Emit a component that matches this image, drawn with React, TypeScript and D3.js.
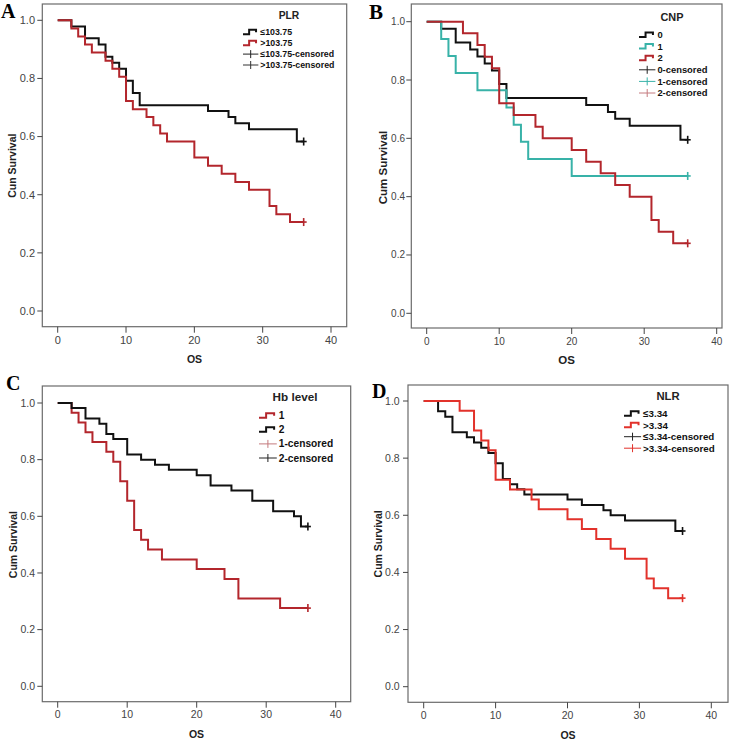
import React from 'react';
import * as d3 from 'd3';

// ---- data ----
const timeTicks = [0, 10, 20, 30, 40];
const survTicks = [0, 0.2, 0.4, 0.6, 0.8, 1.0];
const censorTime = 36;

// A: PLR
const plrLowTimes = [0, 2, 4, 6, 7, 8, 9, 10, 11, 12, 22, 25, 26, 28, 35];
const plrLowSurv = [1, 0.979, 0.938, 0.917, 0.875, 0.854, 0.833, 0.792, 0.75, 0.708, 0.688, 0.667, 0.646, 0.625, 0.583];
const plrHighTimes = [0, 2, 3, 4, 5, 7, 8, 9, 10, 11, 13, 14, 15, 16, 20, 22, 24, 26, 28, 31, 32, 34];
const plrHighSurv = [1, 0.972, 0.944, 0.917, 0.889, 0.861, 0.833, 0.806, 0.722, 0.694, 0.667, 0.639, 0.611, 0.583, 0.528, 0.5, 0.472, 0.444, 0.417, 0.361, 0.333, 0.306];

// B: CNP
const cnp0Times = [0, 2, 4, 6, 7, 8, 9, 10, 11, 22, 25, 26, 28, 35];
const cnp0Surv = [1, 0.976, 0.929, 0.905, 0.881, 0.857, 0.833, 0.786, 0.738, 0.714, 0.69, 0.667, 0.643, 0.595];
const cnp1Times = [0, 2, 3, 4, 7, 11, 12, 13, 14, 20];
const cnp1Surv = [1, 0.941, 0.882, 0.824, 0.765, 0.706, 0.647, 0.588, 0.529, 0.471];
const cnp2Times = [0, 5, 7, 8, 9, 10, 12, 15, 16, 20, 22, 24, 26, 28, 31, 32, 34];
const cnp2Surv = [1, 0.96, 0.92, 0.88, 0.84, 0.72, 0.68, 0.64, 0.6, 0.56, 0.52, 0.48, 0.44, 0.4, 0.32, 0.28, 0.24];

// C: Hb level
const hb1Times = [0, 2, 3, 4, 5, 7, 8, 9, 10, 11, 12, 13, 15, 20, 24, 26, 32];
const hb1Surv = [1, 0.966, 0.931, 0.897, 0.862, 0.828, 0.793, 0.724, 0.655, 0.552, 0.517, 0.483, 0.448, 0.414, 0.379, 0.31, 0.276];
const hb2Times = [0, 2, 4, 6, 7, 8, 10, 12, 14, 16, 20, 22, 25, 28, 31, 34, 35];
const hb2Surv = [1, 0.982, 0.945, 0.927, 0.891, 0.873, 0.818, 0.8, 0.782, 0.764, 0.745, 0.709, 0.691, 0.655, 0.618, 0.6, 0.564];

// D: NLR
const nlrLowTimes = [0, 2, 3, 4, 6, 7, 8, 9, 10, 11, 12, 13, 14, 20, 22, 25, 26, 28, 35];
const nlrLowSurv = [1, 0.964, 0.945, 0.891, 0.873, 0.855, 0.836, 0.818, 0.782, 0.727, 0.709, 0.691, 0.673, 0.655, 0.636, 0.618, 0.6, 0.582, 0.545];
const nlrHighTimes = [0, 5, 7, 8, 9, 10, 12, 15, 16, 20, 22, 24, 26, 28, 31, 32, 34];
const nlrHighSurv = [1, 0.966, 0.897, 0.862, 0.828, 0.724, 0.69, 0.655, 0.621, 0.586, 0.552, 0.517, 0.483, 0.448, 0.379, 0.345, 0.31];

const darkRed = '#b3262c';
const brightRed = '#e2322b';
const teal = '#38b2a8';

type Series = { name: string; times: number[]; surv: number[]; color: string; censorColor: string };

type PanelCfg = {
  letter: string;
  letterX: number;
  letterY: number;
  letterSize: number;
  box: [number, number, number, number];
  xRange: [number, number];
  yRange: [number, number];
  tickSize: number;
  yLabelRight: number;
  xLabelY: number;
  osY: number;
  yTitleX: number;
  yTitle: string;
  titleSize: number;
  legendTitle: string;
  legendTitleX: number;
  legendTitleY: number;
  legendSymX: number;
  legendRowY: number;
  legendRowGap: number;
  legendFont: number;
  series: Series[];
};

const panels: PanelCfg[] = [
  {
    letter: 'A', letterX: 1, letterY: 18, letterSize: 20,
    box: [42.3, 4, 346.7, 326.7], xRange: [57.7, 331], yRange: [311, 20.3],
    tickSize: 11, yLabelRight: 35, xLabelY: 344, osY: 363, yTitleX: 16,
    yTitle: 'Cun Survival', titleSize: 10.5,
    legendTitle: 'PLR', legendTitleX: 289, legendTitleY: 19,
    legendSymX: 243, legendRowY: 32.3, legendRowGap: 10.9, legendFont: 8.8,
    series: [
      { name: '≤103.75', times: plrLowTimes, surv: plrLowSurv, color: '#111', censorColor: '#222' },
      { name: '>103.75', times: plrHighTimes, surv: plrHighSurv, color: darkRed, censorColor: '#333' },
    ],
  },
  {
    letter: 'B', letterX: 369, letterY: 19, letterSize: 21,
    box: [411.3, 4, 722, 328], xRange: [426.7, 716.7], yRange: [313.3, 21.7],
    tickSize: 10, yLabelRight: 405, xLabelY: 344.5, osY: 363.5, yTitleX: 387,
    yTitle: 'Cum Survival', titleSize: 11.5,
    legendTitle: 'CNP', legendTitleX: 672, legendTitleY: 21,
    legendSymX: 639, legendRowY: 35, legendRowGap: 11.6, legendFont: 9.4,
    series: [
      { name: '0', times: cnp0Times, surv: cnp0Surv, color: '#111', censorColor: '#222' },
      { name: '1', times: cnp1Times, surv: cnp1Surv, color: teal, censorColor: teal },
      { name: '2', times: cnp2Times, surv: cnp2Surv, color: darkRed, censorColor: '#c47a7e' },
    ],
  },
  {
    letter: 'C', letterX: 6, letterY: 390, letterSize: 20,
    box: [42.3, 386, 350.7, 701.7], xRange: [57.7, 335.7], yRange: [686.3, 403],
    tickSize: 10.5, yLabelRight: 35, xLabelY: 718, osY: 737.5, yTitleX: 17,
    yTitle: 'Cum Survival', titleSize: 10.5,
    legendTitle: 'Hb level', legendTitleX: 295, legendTitleY: 400.5,
    legendSymX: 259, legendRowY: 415.7, legendRowGap: 14.1, legendFont: 10.2,
    series: [
      { name: '1', times: hb1Times, surv: hb1Surv, color: darkRed, censorColor: '#c47a7e' },
      { name: '2', times: hb2Times, surv: hb2Surv, color: '#111', censorColor: '#222' },
    ],
  },
  {
    letter: 'D', letterX: 372, letterY: 398, letterSize: 20,
    box: [408, 385, 728, 702.3], xRange: [423.7, 711.3], yRange: [686.7, 401],
    tickSize: 10.5, yLabelRight: 399.7, xLabelY: 719, osY: 739, yTitleX: 382,
    yTitle: 'Cum Survival', titleSize: 10.5,
    legendTitle: 'NLR', legendTitleX: 668, legendTitleY: 399.5,
    legendSymX: 624, legendRowY: 413.7, legendRowGap: 11.5, legendFont: 9.8,
    series: [
      { name: '≤3.34', times: nlrLowTimes, surv: nlrLowSurv, color: '#111', censorColor: '#222' },
      { name: '>3.34', times: nlrHighTimes, surv: nlrHighSurv, color: brightRed, censorColor: brightRed },
    ],
  },
];

const Panel = ({ cfg }: { cfg: PanelCfg }) => {
  const [bx0, by0, bx1, by1] = cfg.box;
  const x = d3.scaleLinear().domain([0, 40]).range(cfg.xRange);
  const y = d3.scaleLinear().domain([0, 1]).range(cfg.yRange);

  const line = d3
    .line<[number, number]>()
    .x((d) => x(d[0]))
    .y((d) => y(d[1]))
    .curve(d3.curveStepAfter);

  const font = 'Liberation Sans, Arial, sans-serif';
  const rows: { label: string; kind: 'line' | 'censor'; color: string }[] = [
    ...cfg.series.map((s) => ({ label: s.name, kind: 'line' as const, color: s.color })),
    ...cfg.series.map((s) => ({ label: s.name + '-censored', kind: 'censor' as const, color: s.censorColor })),
  ];
  const symW = (cfg.legendFont / 8.6) * 15;

  return (
    <g>
      <text x={cfg.letterX} y={cfg.letterY} fontFamily="Liberation Serif, Times New Roman, serif" fontWeight="bold" fontSize={cfg.letterSize} fill="#000">
        {cfg.letter}
      </text>
      {/* frame */}
      <rect x={bx0} y={by0} width={bx1 - bx0} height={by1 - by0} fill="none" stroke="#6b6b6b" strokeWidth={1.2} />
      {/* y ticks */}
      {survTicks.map((t) => (
        <g key={'y' + t}>
          <line x1={bx0 - 5} x2={bx0} y1={y(t)} y2={y(t)} stroke="#444" strokeWidth={1} />
          <text x={cfg.yLabelRight} y={y(t)} dy="0.35em" textAnchor="end" fontFamily={font} fontSize={cfg.tickSize} fill="#444">
            {d3.format('.1f')(t)}
          </text>
        </g>
      ))}
      {/* x ticks */}
      {timeTicks.map((t) => (
        <g key={'x' + t}>
          <line x1={x(t)} x2={x(t)} y1={by1} y2={by1 + 6} stroke="#444" strokeWidth={1} />
          <text x={x(t)} y={cfg.xLabelY} textAnchor="middle" fontFamily={font} fontSize={cfg.tickSize} fill="#444">
            {t}
          </text>
        </g>
      ))}
      <text x={(bx0 + bx1) / 2} y={cfg.osY} textAnchor="middle" fontFamily={font} fontWeight="bold" fontSize={cfg.titleSize} fill="#222">
        OS
      </text>
      <text
        transform={`translate(${cfg.yTitleX},${(cfg.yRange[0] + cfg.yRange[1]) / 2}) rotate(-90)`}
        textAnchor="middle"
        fontFamily={font}
        fontWeight="bold"
        fontSize={cfg.titleSize}
        fill="#222"
      >
        {cfg.yTitle}
      </text>
      {/* curves */}
      {cfg.series.map((s) => {
        const pts: [number, number][] = s.times.map((t, i) => [t, s.surv[i]]);
        pts.push([censorTime, s.surv[s.surv.length - 1]]);
        const last = s.surv[s.surv.length - 1];
        return (
          <g key={s.name}>
            <path d={line(pts) || ''} fill="none" stroke={s.color} strokeWidth={2} strokeLinejoin="miter" />
            <line x1={x(censorTime)} x2={x(censorTime)} y1={y(last) - 4} y2={y(last) + 4} stroke={s.color} strokeWidth={1.6} />
            <line x1={x(censorTime) - 3} x2={x(censorTime) + 3} y1={y(last)} y2={y(last)} stroke={s.color} strokeWidth={1.6} />
          </g>
        );
      })}
      {/* legend */}
      <text x={cfg.legendTitleX} y={cfg.legendTitleY} textAnchor="middle" fontFamily={font} fontWeight="bold" fontSize={cfg.legendFont + 1.5} fill="#222">
        {cfg.legendTitle}
      </text>
      {rows.map((r, i) => {
        const ry = cfg.legendRowY + i * cfg.legendRowGap;
        const sx = cfg.legendSymX;
        return (
          <g key={r.label + i}>
            {r.kind === 'line' ? (
              <path
                d={`M${sx},${ry + 2} h${symW * 0.4} v-4.5 h${symW * 0.45} v2.5`}
                fill="none"
                stroke={r.color}
                strokeWidth={2}
              />
            ) : (
              <g stroke={r.color} strokeWidth={1}>
                <line x1={sx} x2={sx + symW} y1={ry} y2={ry} />
                <line x1={sx + symW / 2} x2={sx + symW / 2} y1={ry - 4} y2={ry + 4} />
              </g>
            )}
            <text x={sx + symW + 2} y={ry} dy="0.35em" fontFamily={font} fontWeight="bold" fontSize={cfg.legendFont} fill="#111">
              {r.label}
            </text>
          </g>
        );
      })}
    </g>
  );
};

export default function App() {
  return (
    <svg
      width={737}
      height={744}
      style={{ position: 'absolute', left: 0, top: 0, background: '#fff' }}
    >
      <rect width={737} height={744} fill="#fff" />
      {panels.map((p) => (
        <Panel key={p.letter} cfg={p} />
      ))}
    </svg>
  );
}
